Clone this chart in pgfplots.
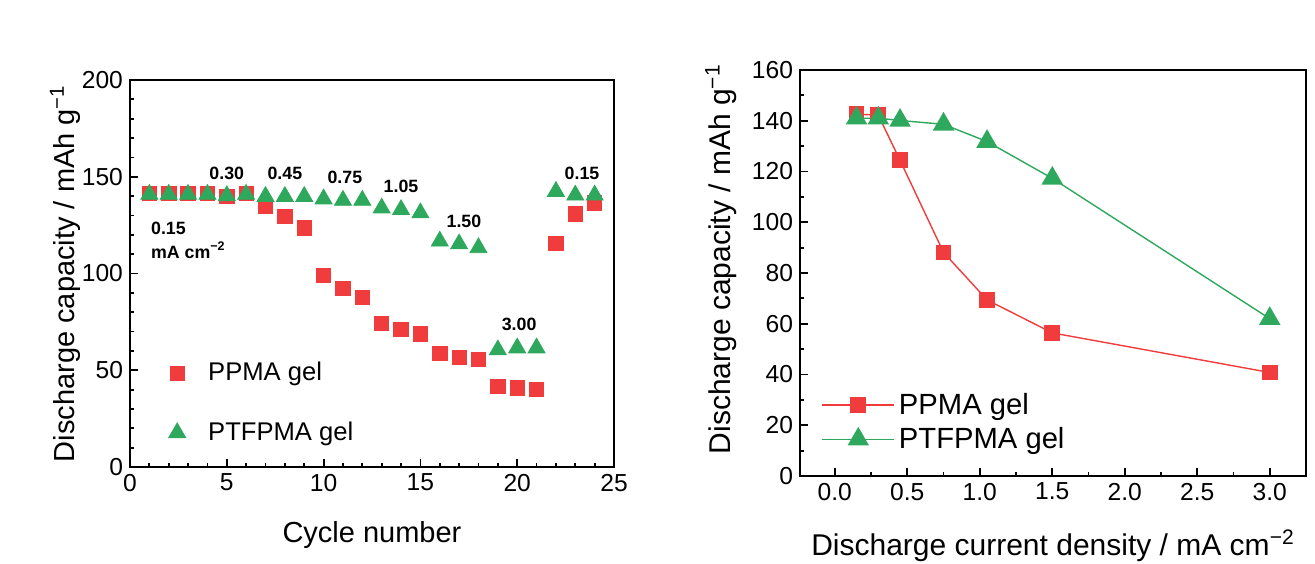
\documentclass[border=0pt]{standalone}
\usepackage{fontspec}
\setmainfont{Liberation Sans}
\usepackage{pgfplots}
\usepackage{pgfplotstable}
\pgfplotsset{compat=1.18}
\definecolor{pred}{RGB}{240,60,60}
\definecolor{pgreen}{RGB}{46,168,92}

% rate test, cycles 1-24
\pgfplotstableread{
cyc ppma ptfpma
1  141.5 140.9
2  141.5 140.9
3  141.5 140.9
4  141.5 140.9
5  139.8 140.2
6  141.5 140.9
7  134.7 139.8
8  129.6 139.8
9  123.5 139.8
10 99.0  138.5
11 92.2  137.8
12 87.6  137.8
13 74.2  133.8
14 71.0  133.0
15 68.7  131.3
16 58.8  116.7
17 56.7  115.3
18 55.5  113.3
19 41.8  60.5
20 40.8  61.5
21 40.0  61.5
22 115.7 142.4
23 130.8 140.5
24 136.5 140.5
}\ratedata

% capacity vs current density
\pgfplotstableread{
j    ppma  ptfpma
0.15 142.6 141.0
0.30 142.2 141.0
0.45 124.4 140.1
0.75 88.1  138.6
1.05 69.4  131.8
1.50 56.4  117.3
3.00 40.8  62.0
}\densdata

\pgfplotsset{
  origin/.style={
    scale only axis,
    tick align=inside,
    xtick pos=bottom, ytick pos=left,
    major tick length=4pt, minor tick length=2pt,
    axis line style={line width=1.1pt},
    every tick/.style={black, line width=0.9pt},
    tick label style={font=\fontsize{12.3}{14}\selectfont},
    /pgf/number format/assume math mode=true,
    clip=false,
  },
}

\begin{document}
\begin{tikzpicture}
\path[use as bounding box] (0,0) rectangle (657.5pt,281.5pt);

\begin{axis}[
  origin,
  at={(65pt,48pt)}, anchor=south west,
  width=242pt, height=193.5pt,
  xmin=0, xmax=25, ymin=0, ymax=200,
  xtick={0,5,...,25}, ytick={0,50,...,200},
  minor x tick num=4, minor y tick num=4,
  xlabel={Cycle number},
  ylabel={Discharge capacity / mAh g\textsuperscript{−1}},
  x label style={at={(axis description cs:0.5,-0.196)}, anchor=base, font=\fontsize{14.5}{17}\selectfont},
  y label style={at={(axis description cs:-0.115,0.5)}, anchor=base, font=\fontsize{14.5}{17}\selectfont},
  legend style={draw=none, fill=none, font=\fontsize{12.8}{15}\selectfont,
    at={(axis description cs:0.043,0.039)}, anchor=south west, row sep=15pt},
  legend cell align=left,
  legend image code/.code={\path[draw=none] (0pt,0pt) -- (23.5pt,0pt);
    \draw[#1, only marks] plot coordinates {(10pt,0pt)};},
]
\addplot[only marks, mark=square*, mark size=3.6pt, pred, mark options={fill=pred, draw=pred}]
  table[x=cyc, y=ppma] {\ratedata};
\addlegendentry{PPMA gel}
\addplot[only marks, mark=triangle*, mark size=4.9pt, pgreen, mark options={fill=pgreen, draw=pgreen}]
  table[x=cyc, y=ptfpma] {\ratedata};
\addlegendentry{PTFPMA gel}

\begin{scope}[every node/.style={font=\bfseries\fontsize{8.9}{10}\selectfont, inner sep=0pt}]
\node[anchor=west] at (axis cs:1.07,123.2) {0.15};
\node[anchor=west] at (axis cs:1.07,112) {mA cm\textsuperscript{−2}};
\node at (axis cs:5.0,151.7) {0.30};
\node at (axis cs:8.0,151.7) {0.45};
\node at (axis cs:11.1,149.6) {0.75};
\node at (axis cs:14.0,145) {1.05};
\node at (axis cs:17.25,127) {1.50};
\node at (axis cs:20.1,73.9) {3.00};
\node at (axis cs:23.35,151.8) {0.15};
\end{scope}
\end{axis}

\begin{axis}[
  origin,
  at={(400pt,43.5pt)}, anchor=south west,
  width=253pt, height=203pt,
  xmin=-0.24, xmax=3.25, ymin=0, ymax=160,
  xtick={0,0.5,...,3.0}, ytick={0,20,...,160},
  minor x tick num=1, minor y tick num=1,
  xticklabel style={/pgf/number format/.cd, fixed, fixed zerofill, precision=1},
  xlabel={Discharge current density / mA cm\textsuperscript{−2}},
  ylabel={Discharge capacity / mAh g\textsuperscript{−1}},
  x label style={at={(axis description cs:0.5,-0.195)}, anchor=base, font=\fontsize{15}{18}\selectfont},
  y label style={at={(axis description cs:-0.138,0.534)}, anchor=base, font=\fontsize{15}{18}\selectfont},
  legend style={draw=none, fill=none, font=\fontsize{14.6}{17}\selectfont,
    at={(axis description cs:0.03,0.04)}, anchor=south west, row sep=1pt},
  legend cell align=left,
  legend image code/.code={\draw[mark repeat=2, mark phase=2, #1] plot coordinates {(0pt,0pt) (18pt,0pt) (36pt,0pt)};},
]
\addplot[pred, line width=0.7pt, mark=square*, mark size=3.6pt, mark options={fill=pred, draw=pred}]
  table[x=j, y=ppma] {\densdata};
\addlegendentry{PPMA gel}
\addplot[pgreen, line width=0.7pt, mark=triangle*, mark size=5.5pt, mark options={fill=pgreen, draw=pgreen}]
  table[x=j, y=ptfpma] {\densdata};
\addlegendentry{PTFPMA gel}
\end{axis}
\end{tikzpicture}
\end{document}
